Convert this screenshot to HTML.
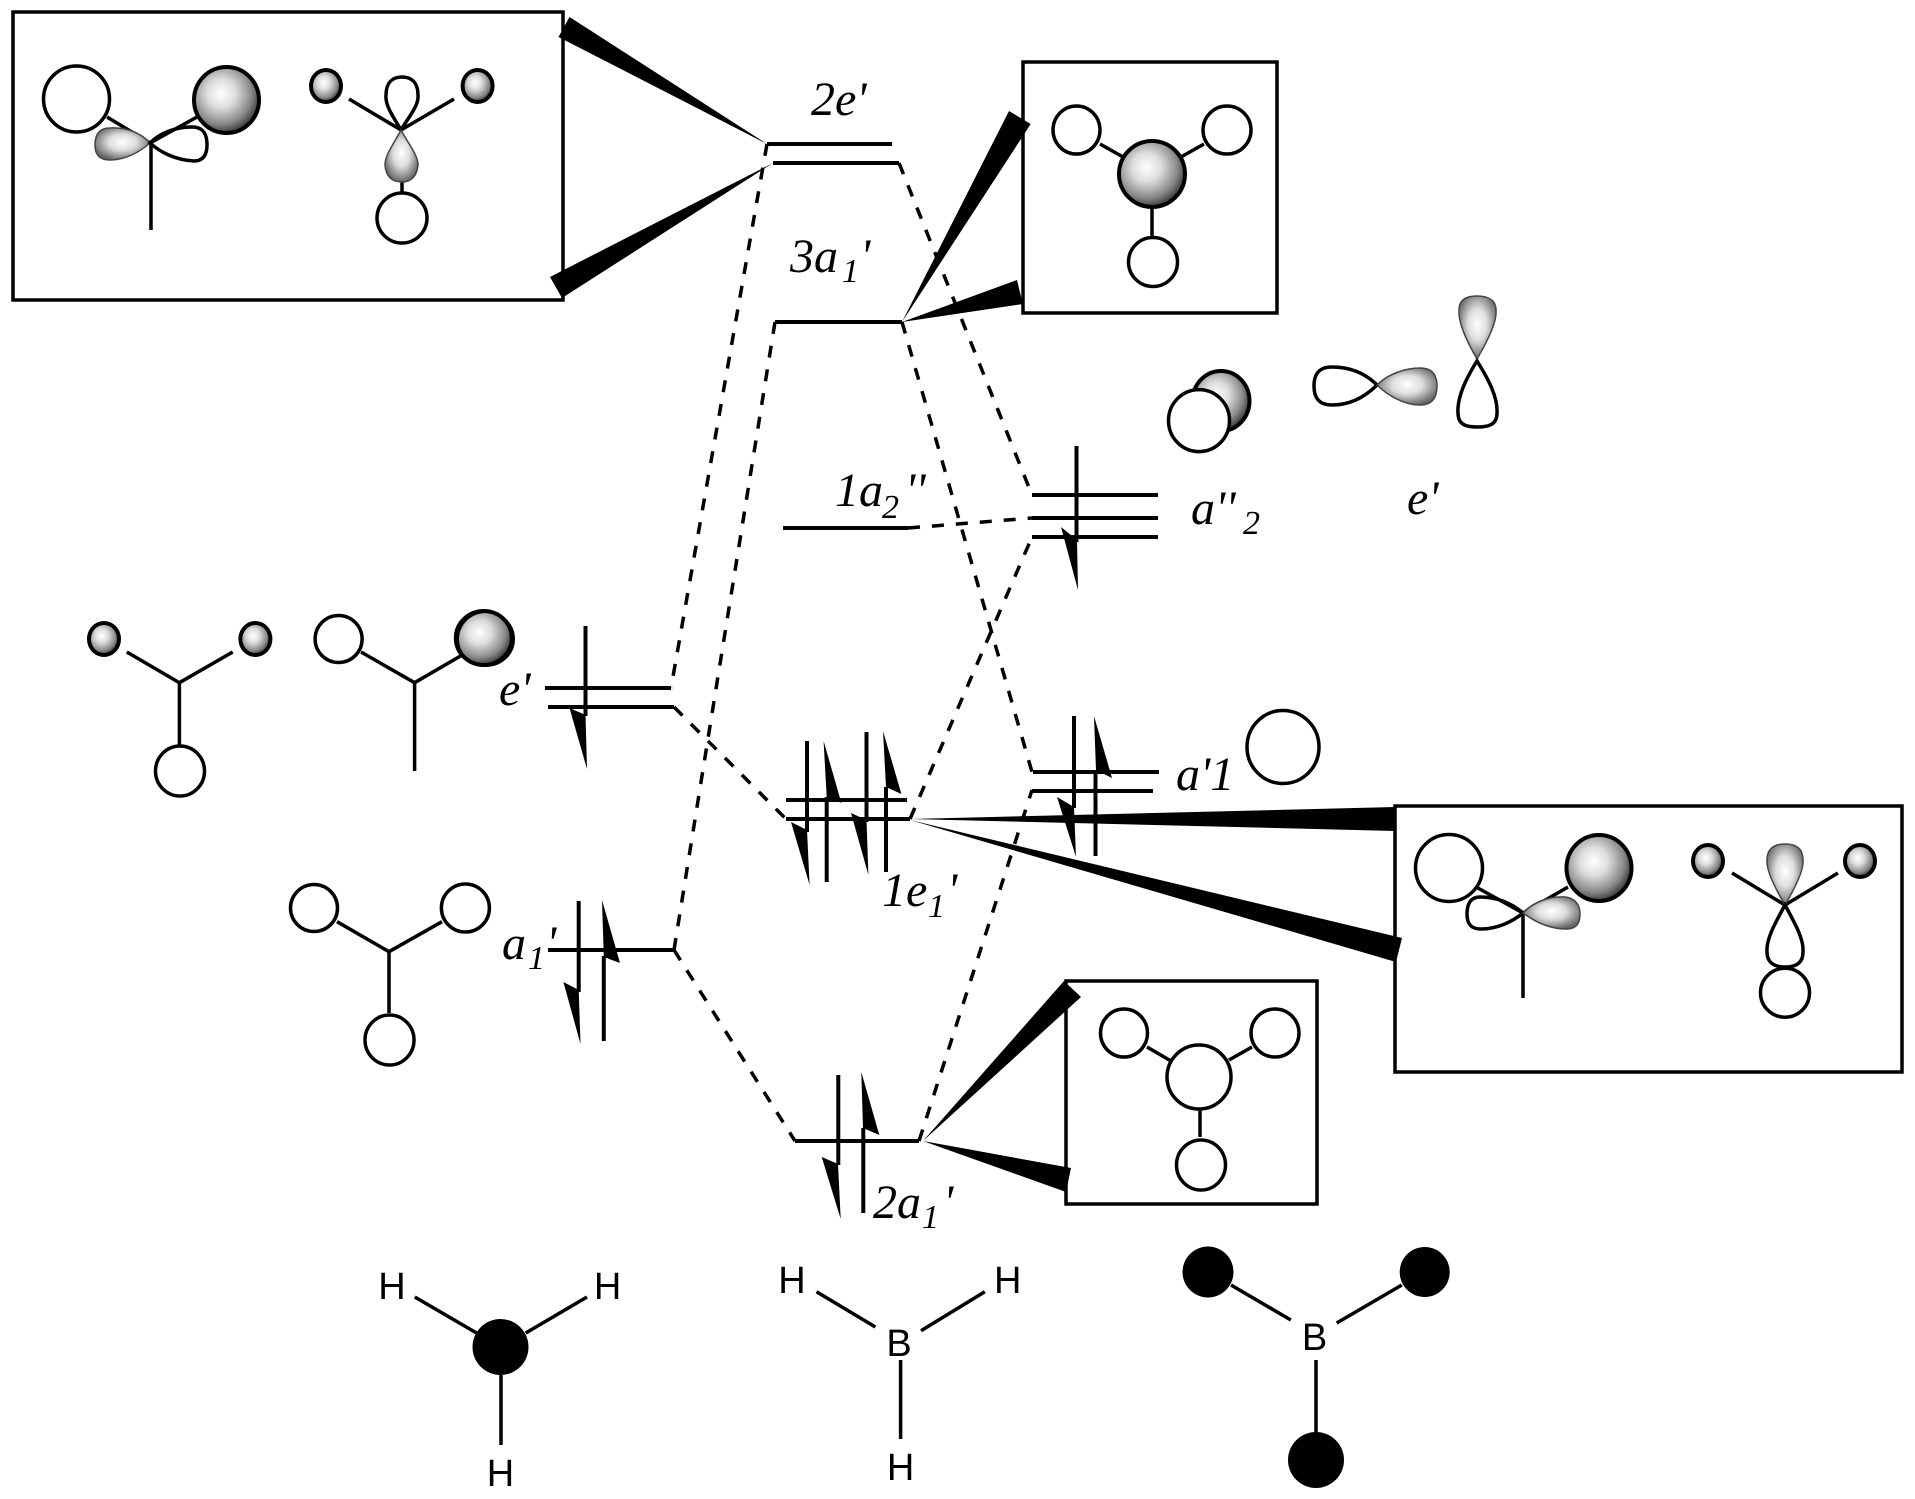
<!DOCTYPE html>
<html lang="en">
<head>
<meta charset="utf-8">
<title>BH3 molecular orbital diagram</title>
<style>
html,body{margin:0;padding:0;background:#fff}
svg{display:block}
.l{stroke:#000;stroke-width:4;fill:none}
.b{stroke:#000;stroke-width:3.5;fill:none}
.d{stroke:#000;stroke-width:3.5;fill:none;stroke-dasharray:12 12}
.r{stroke:#000;stroke-width:3.5;fill:none}
.w{stroke:#000;stroke-width:3.5;fill:#fff}
.g{stroke:#000;stroke-width:4;fill:url(#gr)}
.lg{stroke:#444;stroke-width:1.5;fill:url(#gl)}
.t{font-family:"Liberation Serif",serif;font-style:italic;font-size:48px;fill:#000}
.s{font-family:"Liberation Serif",serif;font-style:italic;font-size:34px;fill:#000}
.a{font-family:"Liberation Sans",sans-serif;font-size:38px;fill:#000;text-anchor:middle}
</style>
</head>
<body>
<svg width="1915" height="1499" viewBox="0 0 1915 1499" xmlns="http://www.w3.org/2000/svg">
<defs>
<radialGradient id="gr" cx="42%" cy="40%" r="62%">
<stop offset="0" stop-color="#fff"/><stop offset=".35" stop-color="#ddd"/><stop offset=".75" stop-color="#888"/><stop offset="1" stop-color="#333"/>
</radialGradient>
<radialGradient id="gl" cx="50%" cy="45%" r="56%">
<stop offset="0" stop-color="#fff"/><stop offset=".45" stop-color="#ddd"/><stop offset="1" stop-color="#666"/>
</radialGradient>
</defs>

<!-- dashed correlation lines -->
<g class="d">
<line x1="767" y1="144" x2="671" y2="688"/>
<line x1="775" y1="322" x2="674" y2="950"/>
<line x1="899" y1="163" x2="1032" y2="495"/>
<line x1="902" y1="322" x2="1032" y2="772"/>
<line x1="908" y1="528" x2="1032" y2="518"/>
<line x1="910" y1="819" x2="1032" y2="537"/>
<line x1="674" y1="707" x2="786" y2="819"/>
<line x1="674" y1="950" x2="795" y2="1141"/>
<line x1="919" y1="1141" x2="1032" y2="790"/>
</g>

<!-- levels -->
<g class="l">
<line x1="767" y1="144" x2="892" y2="144"/>
<line x1="773" y1="163" x2="899" y2="163"/>
<line x1="775" y1="322" x2="902" y2="322"/>
<line x1="783" y1="528" x2="908" y2="528"/>
<line x1="1032" y1="495" x2="1158" y2="495"/>
<line x1="1032" y1="518" x2="1158" y2="518"/>
<line x1="1032" y1="537" x2="1158" y2="537"/>
<line x1="1033" y1="772" x2="1159" y2="772"/>
<line x1="1032" y1="791" x2="1153" y2="791"/>
<line x1="786" y1="800" x2="907" y2="800"/>
<line x1="786" y1="819" x2="910" y2="819"/>
<line x1="795" y1="1141" x2="919" y2="1141"/>
<line x1="545" y1="688" x2="671" y2="688"/>
<line x1="548" y1="707" x2="674" y2="707"/>
<line x1="548" y1="950" x2="674" y2="950"/>
<!-- spin verticals -->
<line x1="585.5" y1="626" x2="585.5" y2="716"/>
<line x1="578.7" y1="901" x2="578.7" y2="992"/>
<line x1="603.8" y1="956" x2="603.8" y2="1041"/>
<line x1="807" y1="741" x2="807" y2="832"/>
<line x1="826.7" y1="797" x2="826.7" y2="882"/>
<line x1="866.5" y1="732" x2="866.5" y2="822"/>
<line x1="886" y1="787" x2="886" y2="872"/>
<line x1="1076.5" y1="446" x2="1076.5" y2="542"/>
<line x1="1074" y1="716" x2="1074" y2="808"/>
<line x1="1095.5" y1="770" x2="1095.5" y2="856"/>
<line x1="838.3" y1="1075" x2="838.3" y2="1165"/>
<line x1="863.3" y1="1128" x2="863.3" y2="1213"/>
</g>

<!-- half arrowheads -->
<g fill="#000">
<polygon points="569.5,708 585.5,715 587,769"/>
<polygon points="563.4,982 578.7,990 580.5,1044"/>
<polygon points="602,900 620,963 603.8,957"/>
<polygon points="791,822 807,830 809.6,885"/>
<polygon points="823.6,741 841.4,803 826.7,797"/>
<polygon points="851,813 866.5,820 868.4,875"/>
<polygon points="883,731 901.4,794 886,787"/>
<polygon points="1061,527 1077,540 1078,590"/>
<polygon points="1094,716 1112,778 1096,770"/>
<polygon points="1057,797 1074,807 1076,857"/>
<polygon points="821.7,1157 838,1164 840.7,1219"/>
<polygon points="861.3,1072 879.3,1135 863,1128"/>
</g>

<!-- boxes -->
<rect class="r" x="13" y="12" width="550" height="288"/>
<rect class="r" x="1023" y="62" width="254" height="251"/>
<rect class="r" x="1395" y="806" width="507" height="266"/>
<rect class="r" x="1066" y="981" width="251" height="223"/>

<!-- wedges -->
<g fill="#000">
<polygon points="767,144 569.5,17 558.5,37"/>
<polygon points="773,163 550,277 562,298"/>
<polygon points="902,322 1009,111 1030.7,124"/>
<polygon points="902,322 1017,280 1022.8,304"/>
<polygon points="910,819 1395,807 1395,831"/>
<polygon points="910,820 1402,938 1396,962"/>
<polygon points="923,1141 1064,981 1081,997"/>
<polygon points="923,1141 1071,1168 1066,1192"/>
</g>

<!-- box 1 orbitals -->
<g class="b">
<line x1="150" y1="143" x2="107" y2="117"/><line x1="150" y1="143" x2="197" y2="117"/><line x1="151" y1="143" x2="151" y2="230"/>
<line x1="401" y1="130" x2="349" y2="99"/><line x1="401" y1="130" x2="454" y2="99"/><line x1="402" y1="180" x2="402" y2="192"/>
</g>
<ellipse class="w" cx="76.5" cy="99" rx="33" ry="33"/>
<ellipse class="g" cx="226.5" cy="100" rx="32.5" ry="33"/>
<path class="lg" d="M150,143 C140,132 125,127 110,128 C98,128 95,136 95,145 C95,155 100,160 110,160 C125,160 140,152 150,143Z"/>
<path class="b" d="M150,143 C160,133 175,127 192,127 C204,127 207,135 207,145 C207,155 203,161 194,161 C175,160 160,152 150,143Z"/>
<ellipse class="g" cx="326" cy="86" rx="15" ry="16"/>
<ellipse class="g" cx="477.6" cy="86" rx="15" ry="16"/>
<path class="b" d="M401,130 C392,115 385,105 386,95 C386,83 392,77 402,77 C412,77 418,83 418,95 C419,105 410,115 401,130Z"/>
<path class="lg" d="M401,130 C393,145 385,155 385,165 C386,177 392,182 402,182 C412,182 417,175 418,165 C418,155 409,145 401,130Z"/>
<ellipse class="w" cx="402" cy="218" rx="25" ry="25"/>

<!-- top right box -->
<g class="b">
<line x1="1100" y1="144" x2="1124" y2="157.5"/><line x1="1204" y1="144" x2="1180" y2="157.5"/><line x1="1152" y1="208" x2="1152" y2="237"/>
</g>
<ellipse class="w" cx="1076.5" cy="130" rx="23.5" ry="24"/>
<ellipse class="w" cx="1227" cy="130" rx="24" ry="24"/>
<ellipse class="g" cx="1152" cy="174" rx="33" ry="33"/>
<ellipse class="w" cx="1153" cy="262" rx="24.5" ry="24.5"/>

<!-- free orbitals -->
<ellipse class="g" cx="1221" cy="401" rx="28.5" ry="30"/>
<ellipse class="w" cx="1199" cy="420.6" rx="30.5" ry="31"/>
<path class="b" d="M1377,385 C1365,373 1350,367 1332,367 C1318,367 1314,375 1314,386 C1314,398 1319,405 1332,405 C1350,405 1365,397 1377,385Z"/>
<path class="lg" d="M1377,385 C1388,374 1405,368 1420,368 C1432,368 1437,375 1437,386 C1437,398 1432,405 1420,405 C1405,405 1388,396 1377,385Z"/>
<path class="lg" d="M1477,359 C1466,340 1458,322 1459,310 C1459,300 1466,296 1477,296 C1488,296 1496,300 1496,310 C1497,322 1488,340 1477,359Z"/>
<path class="b" d="M1477,361 C1465,380 1457,398 1458,413 C1458,424 1465,427 1477,427 C1490,427 1497,424 1497,413 C1498,398 1489,380 1477,361Z"/>
<ellipse class="b" cx="1283" cy="747" rx="36" ry="36.5"/>

<!-- box 2 -->
<g class="b">
<line x1="1523" y1="913" x2="1476" y2="887"/><line x1="1523" y1="913" x2="1568" y2="887"/><line x1="1523" y1="913" x2="1523" y2="998"/>
<line x1="1785" y1="905" x2="1732" y2="873"/><line x1="1785" y1="905" x2="1838" y2="873"/>
</g>
<ellipse class="w" cx="1449" cy="868" rx="33.5" ry="33.5"/>
<ellipse class="g" cx="1599" cy="868" rx="32.5" ry="33"/>
<path class="b" d="M1523,913 C1510,902 1495,897 1480,897 C1470,897 1467,905 1467,914 C1467,924 1471,929 1481,929 C1497,929 1512,922 1523,913Z"/>
<path class="lg" d="M1523,913 C1533,902 1550,896 1565,897 C1575,898 1580,905 1580,914 C1580,924 1576,929 1566,929 C1550,929 1535,922 1523,913Z"/>
<ellipse class="g" cx="1708" cy="861" rx="15" ry="16"/>
<ellipse class="g" cx="1860" cy="861" rx="15" ry="16"/>
<path class="lg" d="M1785,905 C1775,888 1766,870 1767,860 C1767,848 1775,844 1785,844 C1796,844 1803,848 1803,860 C1804,870 1795,888 1785,905Z"/>
<path class="b" d="M1785,905 C1774,925 1766,940 1767,952 C1767,963 1775,967 1785,967 C1796,967 1803,963 1803,952 C1804,940 1796,925 1785,905Z"/>
<ellipse class="w" cx="1785" cy="992.7" rx="24.5" ry="24.5"/>

<!-- box 3 -->
<g class="b">
<line x1="1147" y1="1047" x2="1171" y2="1061"/><line x1="1252" y1="1047" x2="1229" y2="1060"/><line x1="1200" y1="1109" x2="1200" y2="1137"/>
</g>
<ellipse class="w" cx="1124" cy="1033" rx="23.5" ry="24"/>
<ellipse class="w" cx="1275" cy="1033" rx="24" ry="24"/>
<ellipse class="w" cx="1199" cy="1077" rx="32" ry="32"/>
<ellipse class="w" cx="1201" cy="1165" rx="24.5" ry="25"/>

<!-- left orbital groups -->
<g class="b">
<line x1="179.4" y1="682.7" x2="126.8" y2="652"/><line x1="179.4" y1="682.7" x2="232.7" y2="652"/><line x1="179.4" y1="682.7" x2="179.4" y2="746"/>
<line x1="414.6" y1="682.7" x2="361" y2="652"/><line x1="414.6" y1="682.7" x2="460.5" y2="656"/><line x1="414.6" y1="682.7" x2="414.6" y2="771"/>
<line x1="389" y1="951.7" x2="337" y2="921.7"/><line x1="389" y1="951.7" x2="442" y2="921.7"/><line x1="389" y1="951.7" x2="389" y2="1013"/>
</g>
<ellipse class="g" cx="104" cy="639" rx="15" ry="16"/>
<ellipse class="g" cx="255.4" cy="639" rx="15" ry="16"/>
<ellipse class="w" cx="180" cy="771" rx="24.5" ry="25"/>
<ellipse class="w" cx="338.6" cy="639" rx="23.5" ry="23.5"/>
<ellipse class="g" cx="483.8" cy="638" rx="28" ry="27"/>
<ellipse cx="486" cy="639" rx="28" ry="27" fill="none" stroke="#000" stroke-width="2"/>
<ellipse class="w" cx="314" cy="908" rx="23.5" ry="23.5"/>
<ellipse class="w" cx="465.4" cy="908" rx="24" ry="24"/>
<ellipse class="w" cx="389.5" cy="1040" rx="24.5" ry="25"/>

<!-- bottom structures -->
<g class="b">
<line x1="414.8" y1="1297" x2="480" y2="1335"/><line x1="587" y1="1297" x2="525.7" y2="1333"/><line x1="501" y1="1375" x2="501" y2="1445"/>
<line x1="816.5" y1="1291.7" x2="875.4" y2="1327"/><line x1="984.8" y1="1291.7" x2="921" y2="1330.7"/><line x1="900.6" y1="1360" x2="900.6" y2="1439"/>
<line x1="1231" y1="1285" x2="1290.8" y2="1320"/><line x1="1401.8" y1="1285" x2="1336.7" y2="1323"/><line x1="1316" y1="1360" x2="1316" y2="1432"/>
</g>
<ellipse cx="500.5" cy="1347" rx="28" ry="28" fill="#000"/>
<ellipse cx="1208" cy="1272" rx="25.5" ry="25.5" fill="#000"/>
<ellipse cx="1424.7" cy="1272" rx="25" ry="25" fill="#000"/>
<ellipse cx="1316" cy="1460" rx="28" ry="28" fill="#000"/>
<text class="a" x="392" y="1299">H</text>
<text class="a" x="607.6" y="1299">H</text>
<text class="a" x="500.5" y="1486">H</text>
<text class="a" x="792" y="1293">H</text>
<text class="a" x="1007.7" y="1293">H</text>
<text class="a" x="899" y="1356">B</text>
<text class="a" x="900.6" y="1480">H</text>
<text class="a" x="1314.6" y="1350">B</text>

<!-- labels -->
<text class="t" x="811" y="115">2e'</text>
<text class="t" x="790" y="272">3a</text><text class="s" x="842" y="282">1</text><text class="t" x="860" y="272">'</text>
<text class="t" x="835" y="506">1a</text><text class="s" x="882" y="518">2</text><text class="t" x="905" y="506">''</text>
<text class="t" x="1191" y="524">a''</text><text class="s" x="1243" y="534">2</text>
<text class="t" x="1407" y="514">e'</text>
<text class="t" x="1176" y="790">a'1</text>
<text class="t" x="499" y="705">e'</text>
<text class="t" x="502" y="959">a</text><text class="s" x="528" y="969">1</text><text class="t" x="546" y="959">'</text>
<text class="t" x="882" y="906">1e</text><text class="s" x="928" y="917">1</text><text class="t" x="947" y="906">'</text>
<text class="t" x="873" y="1218">2a</text><text class="s" x="922" y="1228">1</text><text class="t" x="943" y="1218">'</text>
</svg>
</body>
</html>
